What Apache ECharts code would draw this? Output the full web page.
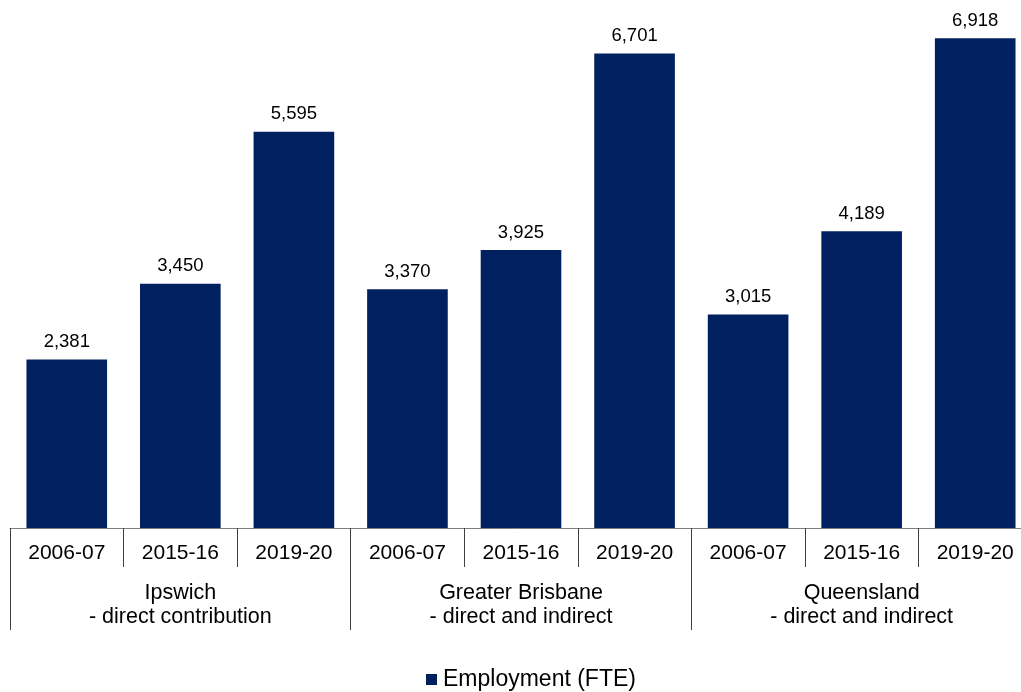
<!DOCTYPE html>
<html>
<head>
<meta charset="utf-8">
<style>
  html, body { margin: 0; padding: 0; background: #fff; }
  #chart { width: 1021px; height: 692px; }
</style>
<script src="https://cdn.jsdelivr.net/npm/echarts@6/dist/echarts.min.js"></script>
</head>
<body>
<div id="chart"></div>
<script>
// Region groups (two-line labels) and the reporting years inside each group
const groups = ['Ipswich\n- direct contribution', 'Greater Brisbane\n- direct and indirect', 'Queensland\n- direct and indirect'];
const years = ['2006-07', '2015-16', '2019-20'];

// Employment (FTE) per group, one value per year
const ipswich = [2381, 3450, 5595];
const greaterBrisbane = [3370, 3925, 6701];
const queensland = [3015, 4189, 6918];

const seriesName = 'Employment (FTE)';

// Flatten into one category per group/year pair
const groupValues = [ipswich, greaterBrisbane, queensland];
const categories = [];
const values = [];
groups.forEach((g, gi) => {
  years.forEach((y, yi) => {
    categories.push(gi + '|' + y);
    values.push(groupValues[gi][yi]);
  });
});

const font = 'Arial, "Liberation Sans", sans-serif';
const chart = echarts.init(document.getElementById('chart'));

chart.setOption({
  animation: false,
  textStyle: { fontFamily: font },
  // the plot runs slightly past the right edge of the canvas
  grid: { left: 10, right: -11, top: 4, bottom: 164, outerBoundsMode: 'none', containLabel: false },
  xAxis: [
    {
      type: 'category',
      data: categories,
      position: 'bottom',
      axisLine: { show: true, lineStyle: { color: '#808080', width: 1 } },
      axisTick: { show: true, interval: 0, length: 39, lineStyle: { color: '#404040', width: 1 } },
      axisLabel: {
        interval: 0,
        margin: 15,
        color: '#000',
        fontSize: 21,
        fontFamily: font,
        formatter: v => v.split('|')[1]
      }
    },
    {
      type: 'category',
      data: groups,
      position: 'bottom',
      axisLine: { show: false },
      axisTick: { show: true, interval: 0, length: 102, lineStyle: { color: '#404040', width: 1 } },
      axisLabel: {
        interval: 0,
        margin: 53,
        color: '#000',
        fontSize: 21.5,
        lineHeight: 24,
        fontFamily: font
      }
    }
  ],
  yAxis: {
    type: 'value',
    min: 0,
    max: 7400,
    show: false,
    splitLine: { show: false }
  },
  legend: {
    show: true,
    left: 426,
    top: 668,
    padding: 0,
    icon: 'rect',
    itemWidth: 11,
    itemHeight: 11,
    itemGap: 4,
    textStyle: { fontSize: 23, color: '#000', fontFamily: font, padding: [0, 0, 0, 1] },
    data: [seriesName]
  },
  series: [
    {
      name: seriesName,
      type: 'bar',
      xAxisIndex: 0,
      data: values,
      barCategoryGap: '29%',
      itemStyle: { color: '#002060' },
      label: {
        show: true,
        position: 'top',
        distance: 8,
        color: '#000',
        fontSize: 18.5,
        fontFamily: font,
        formatter: p => p.value.toLocaleString('en-US')
      }
    }
  ]
});
</script>
</body>
</html>
